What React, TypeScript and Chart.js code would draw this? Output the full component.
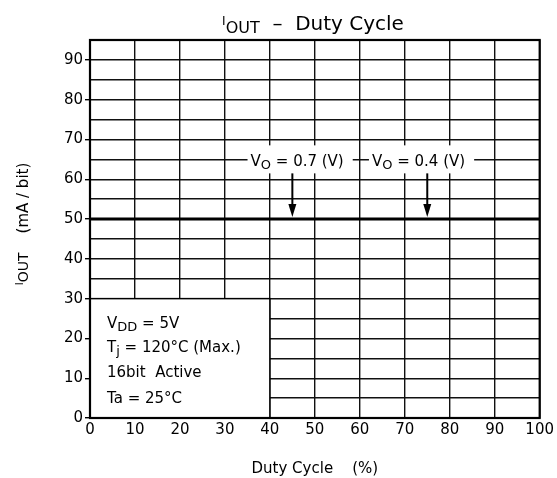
import React, { useEffect, useRef } from "react";
import { Chart, registerables } from "chart.js";

Chart.register(...registerables);

// ---- data ----
const xMin = 0;
const xMax = 100;
const xStep = 10;
const yMin = 0;
const yMax = 95;
const yStep = 5;
const dutyCycle = [0, 100];
const ioutValues = [50, 50];
const voLabels = ["0.7", "0.4"];
const voArrowX = [45, 75];
const voLabelLeftX = [35.7, 62.7];
const conditionLines: [string, boolean][][] = [
  [["V", false], ["DD", true], [" = 5V", false]],
  [["T", false], ["j", true], [" = 120°C (Max.)", false]],
  [["16bit  Active", false]],
  [["Ta = 25°C", false]],
];
const boxMaxX = 40;
const boxMaxY = 30;

const FONT = '"DejaVu Sans", sans-serif';
const f = (s: number) => `${s}px ${FONT}`;

type Seg = [string, boolean];
type RSeg = [string, number, number]; // text, size, dy

function richWidth(ctx: CanvasRenderingContext2D, segs: Seg[], size: number, sub: number) {
  let w = 0;
  for (const [t, s] of segs) {
    ctx.font = f(s ? sub : size);
    w += ctx.measureText(t).width;
  }
  return w;
}

function drawRich(
  ctx: CanvasRenderingContext2D,
  segs: Seg[],
  x: number,
  baseline: number,
  size: number,
  sub: number,
  subDy: number
) {
  ctx.textAlign = "left";
  ctx.textBaseline = "alphabetic";
  let cx = x;
  for (const [t, s] of segs) {
    ctx.font = f(s ? sub : size);
    ctx.fillText(t, cx, baseline + (s ? subDy : 0));
    cx += ctx.measureText(t).width;
  }
  return cx;
}

function rWidth(ctx: CanvasRenderingContext2D, segs: RSeg[]) {
  let w = 0;
  for (const [t, s] of segs) {
    ctx.font = f(s);
    w += ctx.measureText(t).width;
  }
  return w;
}

function rDraw(ctx: CanvasRenderingContext2D, segs: RSeg[], x: number, baseline: number) {
  ctx.textAlign = "left";
  ctx.textBaseline = "alphabetic";
  let cx = x;
  for (const [t, s, dy] of segs) {
    ctx.font = f(s);
    ctx.fillText(t, cx, baseline + dy);
    cx += ctx.measureText(t).width;
  }
}

const overlay = {
  id: "overlay",
  afterDraw(chart: any) {
    const ctx: CanvasRenderingContext2D = chart.ctx;
    const xs = chart.scales.x;
    const ys = chart.scales.y;
    const { left, right, top, bottom } = chart.chartArea;
    ctx.save();
    ctx.fillStyle = "#000";
    ctx.strokeStyle = "#000";

    // condition box
    const bx0 = xs.getPixelForValue(0);
    const bx1 = xs.getPixelForValue(boxMaxX);
    const by0 = ys.getPixelForValue(boxMaxY);
    const by1 = ys.getPixelForValue(0);
    ctx.fillStyle = "#fff";
    ctx.fillRect(bx0, by0, bx1 - bx0, by1 - by0);
    ctx.lineWidth = 1.5;
    ctx.strokeRect(bx0, by0, bx1 - bx0, by1 - by0);
    ctx.fillStyle = "#000";
    const baseOffs = [29, 53, 78, 104];
    conditionLines.forEach((segs, i) => {
      drawRich(ctx, segs, bx0 + 17, by0 + baseOffs[i], 15, 13, 3);
    });

    // VO labels + arrows
    const ly = ys.getPixelForValue(65);
    voLabels.forEach((v, i) => {
      const segs: Seg[] = [["V", false], ["O", true], [" = " + v + " (V)", false]];
      const lx = xs.getPixelForValue(voLabelLeftX[i]);
      const w = richWidth(ctx, segs, 15, 13);
      ctx.fillStyle = "#fff";
      ctx.fillRect(lx - 3, ly - 14, w + 12, 28);
      ctx.fillStyle = "#000";
      drawRich(ctx, segs, lx, ly + 7, 15, 13, 3);
      const ax = xs.getPixelForValue(voArrowX[i]);
      const tipY = ys.getPixelForValue(50) - 2;
      ctx.lineWidth = 2;
      ctx.beginPath();
      ctx.moveTo(ax, ly + 14);
      ctx.lineTo(ax, tipY - 10);
      ctx.stroke();
      ctx.beginPath();
      ctx.moveTo(ax - 4, tipY - 13);
      ctx.lineTo(ax + 4, tipY - 13);
      ctx.lineTo(ax, tipY);
      ctx.closePath();
      ctx.fill();
    });

    // frame
    ctx.lineWidth = 2.2;
    ctx.strokeRect(left, top, right - left, bottom - top);

    // title
    const tsegs: RSeg[] = [
      ["I", 12, -5],
      ["OUT", 16, 3],
      ["  –  Duty Cycle", 20, 0],
    ];
    const tw = rWidth(ctx, tsegs);
    rDraw(ctx, tsegs, 313 - tw / 2, 30);

    // x title
    const xsegs: Seg[] = [["Duty Cycle    (%)", false]];
    const xw = richWidth(ctx, xsegs, 15, 12);
    drawRich(ctx, xsegs, (left + right) / 2 - xw / 2, 473, 15, 12, 3);

    // y title
    ctx.save();
    ctx.translate(28, 224);
    ctx.rotate(-Math.PI / 2);
    const ysegs: RSeg[] = [
      ["I", 10, -5],
      ["OUT", 14, 0],
      ["    (mA / bit)", 15, 0],
    ];
    const yw = rWidth(ctx, ysegs);
    rDraw(ctx, ysegs, -yw / 2, 0);
    ctx.restore();

    ctx.restore();
  },
};

export default function App() {
  const ref = useRef<HTMLCanvasElement>(null);
  useEffect(() => {
    if (!ref.current) return;
    const chart = new Chart(ref.current, {
      type: "scatter",
      data: {
        datasets: [
          {
            data: dutyCycle.map((x, i) => ({ x, y: ioutValues[i] })),
            showLine: true,
            borderColor: "#000",
            borderWidth: 3,
            pointRadius: 0,
            fill: false,
          },
        ],
      },
      options: {
        animation: false,
        responsive: false,
        devicePixelRatio: 1,
        layout: { padding: { left: 0, top: 40, right: 16, bottom: 0 } },
        plugins: { legend: { display: false }, tooltip: { enabled: false }, title: { display: false } },
        scales: {
          x: {
            type: "linear",
            min: xMin,
            max: xMax,
            ticks: {
              stepSize: xStep,
              autoSkip: false,
              color: "#000",
              font: { family: FONT, size: 15 },
              padding: 3,
              maxRotation: 0,
            },
            grid: { color: "#111", lineWidth: 1.4, drawTicks: false },
            border: { display: false },
            afterFit: (s: any) => {
              s.height = 60;
            },
          },
          y: {
            type: "linear",
            min: yMin,
            max: yMax,
            ticks: {
              stepSize: yStep,
              autoSkip: false,
              color: "#000",
              font: { family: FONT, size: 15 },
              padding: 2,
              callback: (v: any) => (Number(v) % 10 === 0 ? String(v) : ""),
            },
            grid: {
              color: "#111",
              lineWidth: 1.4,
              tickLength: 5,
              tickColor: (c: any) => (c.tick && c.tick.value % 10 === 0 ? "#000" : "rgba(0,0,0,0)"),
            },
            border: { display: false },
            afterFit: (s: any) => {
              s.width = 90;
            },
          },
        },
      },
      plugins: [overlay],
    } as any);
    return () => chart.destroy();
  }, []);
  return (
    <div style={{ position: "absolute", left: 0, top: 0, width: 557, height: 478, background: "#fff" }}>
      <canvas ref={ref} width={557} height={478} style={{ width: 557, height: 478 }} />
    </div>
  );
}
